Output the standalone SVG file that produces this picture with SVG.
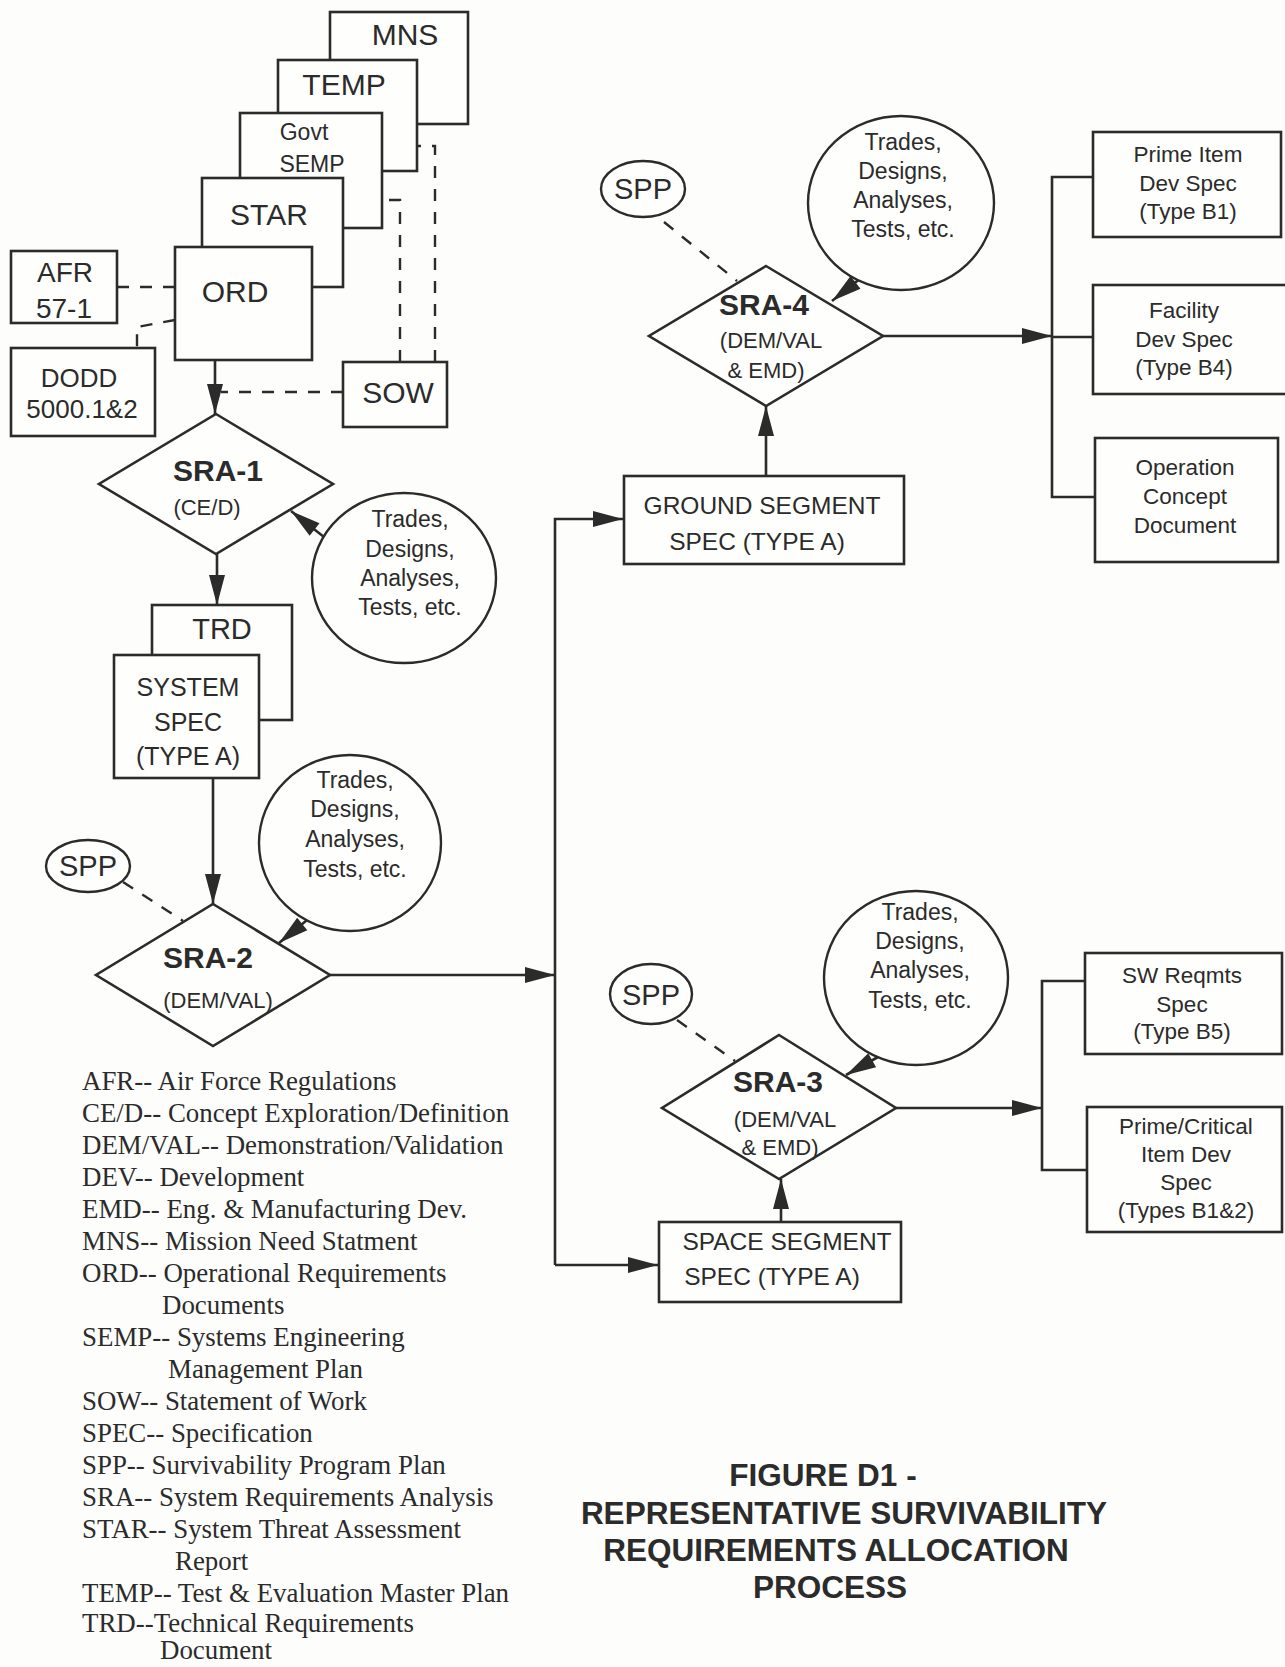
<svg xmlns="http://www.w3.org/2000/svg" width="1285" height="1667" viewBox="0 0 1285 1667">
<style>
.bx{fill:#fefefc;stroke:#2b2b2b;stroke-width:2.6}
.el{fill:#fefefc;stroke:#2b2b2b;stroke-width:2.4}
.ln{fill:none;stroke:#2b2b2b;stroke-width:2.6}
.ds{fill:none;stroke:#2b2b2b;stroke-width:2.4;stroke-dasharray:12 11}
.t{font-family:"Liberation Sans",Arial,sans-serif;fill:#2b2b2b;text-anchor:middle}
.b{font-weight:bold}
.lg{font-family:"Liberation Serif","Times New Roman",serif;fill:#2b2b2b;font-size:26.9px}
</style>
<defs>
<marker id="ah" markerUnits="userSpaceOnUse" markerWidth="32" markerHeight="18" refX="30" refY="8" orient="auto" overflow="visible">
<path d="M0,0 L30,8 L0,16 z" fill="#2b2b2b"/>
</marker>
</defs>
<rect width="1285" height="1667" fill="#fdfdfb"/>

<g id="connectors">
<path class="ln" d="M215,359 L215,414" marker-end="url(#ah)"/>
<path class="ln" d="M217,554 L217,605" marker-end="url(#ah)"/>
<path class="ln" d="M213,778 L213,904" marker-end="url(#ah)"/>
<path class="ln" d="M330,975 L555,975" marker-end="url(#ah)"/>
<path class="ln" d="M555,1265 L555,519 L623,519" marker-end="url(#ah)"/>
<path class="ln" d="M555,1265 L658,1265" marker-end="url(#ah)"/>
<path class="ln" d="M766,476 L766,406" marker-end="url(#ah)"/>
<path class="ln" d="M883,336 L1052,336" marker-end="url(#ah)"/>
<path class="ln" d="M1093,177 L1052,177 L1052,497 L1095,497 M1052,337 L1093,337"/>
<path class="ln" d="M781,1222 L781,1179" marker-end="url(#ah)"/>
<path class="ln" d="M896,1108 L1042,1108" marker-end="url(#ah)"/>
<path class="ln" d="M1085,981 L1042,981 L1042,1170 L1087,1170"/>
<path class="ln" d="M324,537 L291,511" marker-end="url(#ah)"/>
<path class="ln" d="M312,916 L279,943" marker-end="url(#ah)"/>
<path class="ln" d="M861,278 L832,301" marker-end="url(#ah)"/>
<path class="ln" d="M878,1057 L846,1075" marker-end="url(#ah)"/>
<path class="ds" d="M117,287 L175,287"/>
<path class="ds" d="M175,320 L137,327 L137,348"/>
<path class="ds" d="M343,392 L221,392"/>
<path class="ds" d="M400,362 L400,200 L382,200"/>
<path class="ds" d="M435,362 L435,146 L417,146"/>
<path class="ds" d="M123,882 L183,921"/>
<path class="ds" d="M664,222 L737,281"/>
<path class="ds" d="M677,1020 L735,1061"/>
</g>

<g id="MNS"><rect class="bx" x="330" y="12" width="138" height="112"/><text class="t" x="405" y="45" font-size="30">MNS</text></g>
<g id="TEMP"><rect class="bx" x="278" y="60" width="139" height="111"/><text class="t" x="344" y="95" font-size="30">TEMP</text></g>
<g id="GovtSEMP"><rect class="bx" x="240" y="113" width="142" height="115"/><text class="t" x="304" y="140" font-size="23">Govt</text><text class="t" x="312" y="172" font-size="23">SEMP</text></g>
<g id="STAR"><rect class="bx" x="202" y="178" width="141" height="109"/><text class="t" x="269" y="225" font-size="30">STAR</text></g>
<g id="ORD"><rect class="bx" x="175" y="247" width="137" height="113"/><text class="t" x="235" y="302" font-size="30">ORD</text></g>
<g id="AFR"><rect class="bx" x="11" y="251" width="106" height="72"/><text class="t" x="65" y="282" font-size="28">AFR</text><text class="t" x="64" y="318" font-size="28">57-1</text></g>
<g id="DODD"><rect class="bx" x="11" y="348" width="144" height="88"/><text class="t" x="79" y="387" font-size="26">DODD</text><text class="t" x="82" y="418" font-size="26">5000.1&amp;2</text></g>
<g id="SOW"><rect class="bx" x="343" y="362" width="104" height="65"/><text class="t" x="398" y="403" font-size="30">SOW</text></g>

<g id="SRA1"><polygon class="bx" points="216,414 333,484 216,554 99,484"/><text class="t b" x="218" y="481" font-size="30">SRA-1</text><text class="t" x="207" y="515" font-size="22">(CE/D)</text></g>
<g id="TAD1"><ellipse class="el" cx="404" cy="578" rx="92" ry="85"/><text class="t" font-size="23"><tspan x="410" y="527">Trades,</tspan><tspan x="410" y="557">Designs,</tspan><tspan x="410" y="586">Analyses,</tspan><tspan x="410" y="615">Tests, etc.</tspan></text></g>

<g id="TRD"><rect class="bx" x="152" y="605" width="140" height="115"/><text class="t" x="222" y="639" font-size="29">TRD</text></g>
<g id="SYSSPEC"><rect class="bx" x="114" y="655" width="145" height="123"/><text class="t" font-size="25"><tspan x="188" y="696">SYSTEM</tspan><tspan x="188" y="731">SPEC</tspan><tspan x="188" y="765">(TYPE A)</tspan></text></g>

<g id="SPP2"><ellipse class="el" cx="88" cy="866" rx="42" ry="26"/><text class="t" x="88" y="876" font-size="29">SPP</text></g>
<g id="TAD2"><ellipse class="el" cx="350" cy="843" rx="91" ry="88"/><text class="t" font-size="23"><tspan x="355" y="788">Trades,</tspan><tspan x="355" y="817">Designs,</tspan><tspan x="355" y="847">Analyses,</tspan><tspan x="355" y="877">Tests, etc.</tspan></text></g>
<g id="SRA2"><polygon class="bx" points="213,904 330,975 213,1046 96,975"/><text class="t b" x="208" y="968" font-size="30">SRA-2</text><text class="t" x="218" y="1008" font-size="22">(DEM/VAL)</text></g>

<g id="GROUND"><rect class="bx" x="624" y="476" width="280" height="88"/><text class="t" font-size="24.5"><tspan x="762" y="514">GROUND SEGMENT</tspan><tspan x="757" y="550">SPEC (TYPE A)</tspan></text></g>
<g id="SPP4"><ellipse class="el" cx="643" cy="189" rx="42" ry="28"/><text class="t" x="643" y="199" font-size="29">SPP</text></g>
<g id="TAD4"><ellipse class="el" cx="901" cy="203" rx="93" ry="87"/><text class="t" font-size="23"><tspan x="903" y="150">Trades,</tspan><tspan x="903" y="179">Designs,</tspan><tspan x="903" y="208">Analyses,</tspan><tspan x="903" y="237">Tests, etc.</tspan></text></g>
<g id="SRA4"><polygon class="bx" points="766,266 883,336 766,406 649,336"/><text class="t b" x="764" y="315" font-size="30">SRA-4</text><text class="t" x="771" y="348" font-size="22">(DEM/VAL</text><text class="t" x="766" y="378" font-size="22">&amp; EMD)</text></g>

<g id="PrimeItem"><rect class="bx" x="1093" y="132" width="188" height="105"/><text class="t" font-size="22.5"><tspan x="1188" y="162">Prime Item</tspan><tspan x="1188" y="191">Dev Spec</tspan><tspan x="1188" y="219">(Type B1)</tspan></text></g>
<g id="Facility"><rect class="bx" x="1093" y="285" width="196" height="109"/><text class="t" font-size="22.5"><tspan x="1184" y="318">Facility</tspan><tspan x="1184" y="347">Dev Spec</tspan><tspan x="1184" y="375">(Type B4)</tspan></text></g>
<g id="OpConcept"><rect class="bx" x="1095" y="438" width="183" height="124"/><text class="t" font-size="22.5"><tspan x="1185" y="475">Operation</tspan><tspan x="1185" y="504">Concept</tspan><tspan x="1185" y="533">Document</tspan></text></g>

<g id="SPP3"><ellipse class="el" cx="651" cy="994" rx="41" ry="30"/><text class="t" x="651" y="1005" font-size="29">SPP</text></g>
<g id="TAD3"><ellipse class="el" cx="916" cy="978" rx="92" ry="87"/><text class="t" font-size="23"><tspan x="920" y="920">Trades,</tspan><tspan x="920" y="949">Designs,</tspan><tspan x="920" y="978">Analyses,</tspan><tspan x="920" y="1008">Tests, etc.</tspan></text></g>
<g id="SRA3"><polygon class="bx" points="779,1035 896,1108 779,1179 662,1108"/><text class="t b" x="778" y="1092" font-size="30">SRA-3</text><text class="t" x="785" y="1127" font-size="22">(DEM/VAL</text><text class="t" x="780" y="1155" font-size="22">&amp; EMD)</text></g>
<g id="SPACE"><rect class="bx" x="659" y="1222" width="242" height="80"/><text class="t" font-size="24.5"><tspan x="787" y="1250">SPACE SEGMENT</tspan><tspan x="772" y="1285">SPEC (TYPE A)</tspan></text></g>

<g id="SWReqmts"><rect class="bx" x="1085" y="953" width="197" height="101"/><text class="t" font-size="22.5"><tspan x="1182" y="983">SW Reqmts</tspan><tspan x="1182" y="1012">Spec</tspan><tspan x="1182" y="1039">(Type B5)</tspan></text></g>
<g id="PrimeCritical"><rect class="bx" x="1087" y="1107" width="195" height="125"/><text class="t" font-size="22.5"><tspan x="1186" y="1134">Prime/Critical</tspan><tspan x="1186" y="1162">Item Dev</tspan><tspan x="1186" y="1190">Spec</tspan><tspan x="1186" y="1218">(Types B1&amp;2)</tspan></text></g>

<g id="legend" class="lg">
<text x="82" y="1090">AFR-- Air Force Regulations</text>
<text x="82" y="1122">CE/D-- Concept Exploration/Definition</text>
<text x="82" y="1154">DEM/VAL-- Demonstration/Validation</text>
<text x="82" y="1186">DEV--  Development</text>
<text x="82" y="1218">EMD-- Eng. &amp; Manufacturing Dev.</text>
<text x="82" y="1250">MNS-- Mission Need Statment</text>
<text x="82" y="1282">ORD-- Operational Requirements</text>
<text x="162" y="1314">Documents</text>
<text x="82" y="1346">SEMP-- Systems Engineering</text>
<text x="168" y="1378">Management Plan</text>
<text x="82" y="1410">SOW-- Statement of Work</text>
<text x="82" y="1442">SPEC-- Specification</text>
<text x="82" y="1474">SPP-- Survivability Program Plan</text>
<text x="82" y="1506">SRA-- System Requirements Analysis</text>
<text x="82" y="1538">STAR-- System Threat Assessment</text>
<text x="175" y="1570">Report</text>
<text x="82" y="1602">TEMP-- Test &amp; Evaluation Master Plan</text>
<text x="82" y="1632">TRD--Technical Requirements</text>
<text x="160" y="1659">Document</text>
</g>

<g id="title" class="t b" font-size="31.5">
<text x="823" y="1486">FIGURE D1 -</text>
<text x="844" y="1524">REPRESENTATIVE SURVIVABILITY</text>
<text x="836" y="1561">REQUIREMENTS ALLOCATION</text>
<text x="830" y="1598">PROCESS</text>
</g>
</svg>
